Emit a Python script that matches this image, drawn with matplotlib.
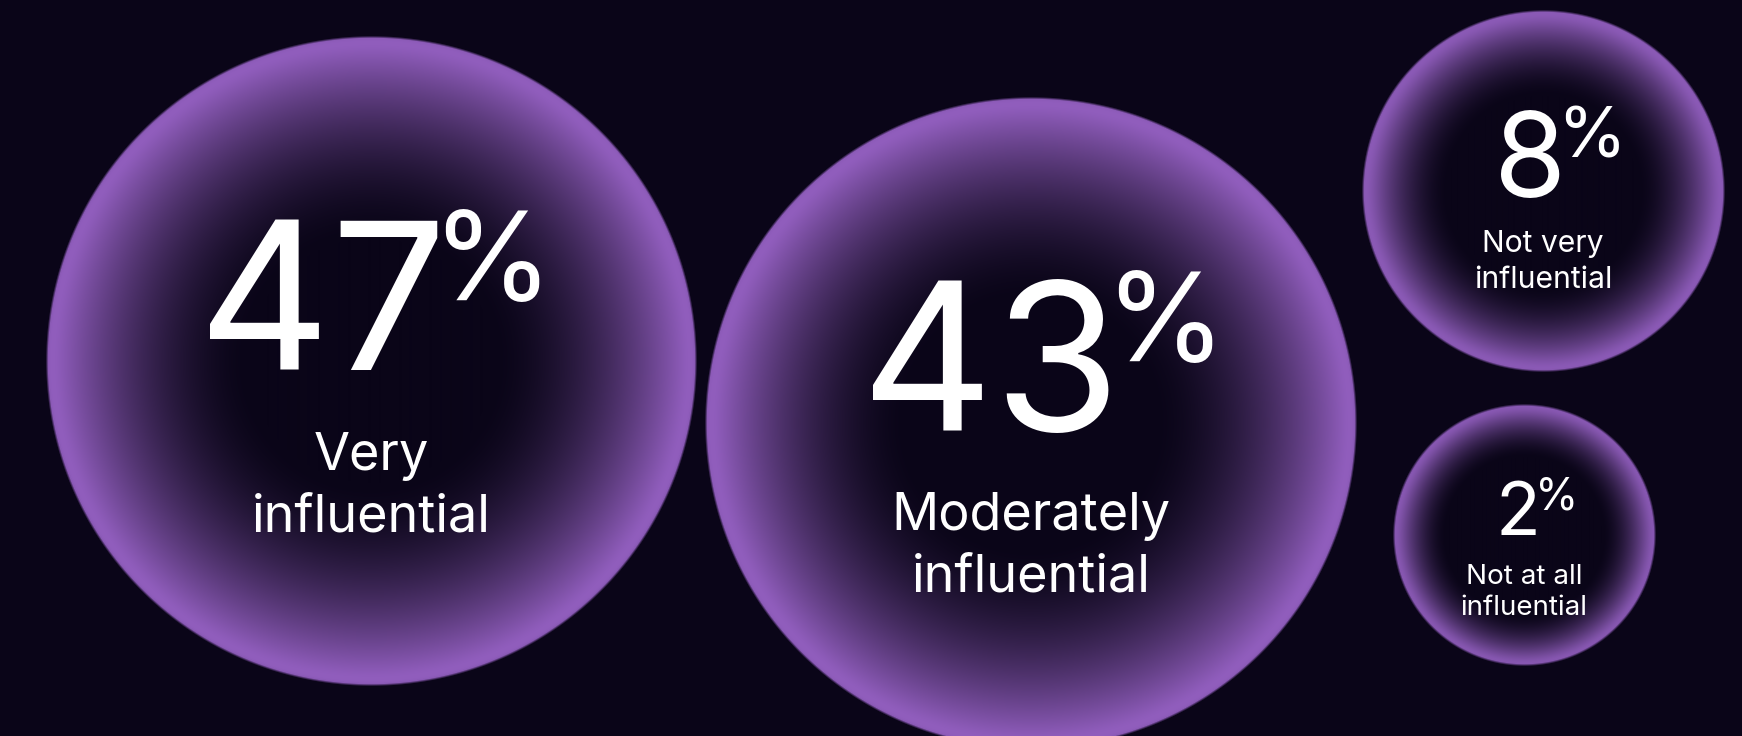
import numpy as np
import matplotlib
matplotlib.use("Agg")
import matplotlib.pyplot as plt

# Survey shares and their answer labels
values = [47, 43, 8, 2]
labels = ["Very\ninfluential", "Moderately\ninfluential",
          "Not very\ninfluential", "Not at all\ninfluential"]

# Bubble layout in pixel units
W, H = 1742, 736
centers_x = [371, 1031, 1543, 1524]
centers_y = [361, 423, 191, 535]
radii = [324, 325, 180, 130]
glow_depth = [0.62, 0.62, 0.47, 0.40]   # fraction of radius the rim glow reaches inward
num_pt = [148, 148, 84, 53]
label_pt = [37.6, 37.6, 21.7, 20.0]
num_dy = [9, 8, 6, 0]
num_dx = [4, 12, 17, 13]
label_dy = [109, 107, 61, 49]
line_gap = [62, 62, 36, 31]

BG = np.array([10, 5, 24]) / 255
RIM = np.array([156, 101, 203]) / 255
FONT = ["Inter", "DejaVu Sans"]

fig = plt.figure(figsize=(W / 100, H / 100), dpi=100, facecolor=BG)
ax = fig.add_axes([0, 0, 1, 1])
ax.set_xlim(0, W)
ax.set_ylim(H, 0)
ax.set_facecolor(BG)
ax.axis("off")


def glow_disc(r, depth):
    n = 2 * r + 2
    c = np.arange(n) - (n - 1) / 2
    xx, yy = np.meshgrid(c, c)
    dist = r - np.hypot(xx, yy)
    f = np.clip(1 - dist / (depth * r), 0, 1) ** 1.65
    f *= 1 - 0.14 * np.exp(-np.clip(dist, 0, None) / 4)
    rgb = BG + f[..., None] * (RIM - BG)
    alpha = np.clip(dist / 2.5 + 0.5, 0, 1)
    return np.dstack([rgb, alpha]), n


for cx, cy, r, dep in zip(centers_x, centers_y, radii, glow_depth):
    img, n = glow_disc(r, dep)
    ax.imshow(img, extent=(cx - n / 2, cx + n / 2, cy + n / 2, cy - n / 2),
              interpolation="bilinear", zorder=1)

ax.set_xlim(0, W)
ax.set_ylim(H, 0)

renderer = fig.canvas.get_renderer()

for i, (v, lab) in enumerate(zip(values, labels)):
    cx, cy = centers_x[i], centers_y[i]
    base = cy + num_dy[i]
    digit_h = 0.727 * num_pt[i] * 100 / 72
    pct_pt = 0.60 * num_pt[i]

    t_num = ax.text(0, base, f"{v}", fontsize=num_pt[i], color="white",
                    family=FONT, ha="left", va="baseline", zorder=3)
    t_pct = ax.text(0, base - 0.47 * digit_h, "%", fontsize=pct_pt, color="white",
                    family=FONT, ha="left", va="baseline", zorder=3)
    w_num = t_num.get_window_extent(renderer).width
    w_pct = t_pct.get_window_extent(renderer).width
    gap = -0.11 * num_pt[i]
    total = w_num + gap + w_pct
    x0 = cx + num_dx[i] - total / 2
    t_num.set_x(x0)
    t_pct.set_x(x0 + w_num + gap)

    for k, line in enumerate(lab.split("\n")):
        ax.text(cx, cy + label_dy[i] + k * line_gap[i], line, fontsize=label_pt[i],
                color="white", family=FONT, ha="center", va="baseline", zorder=3)

fig.savefig("out.png", dpi=100, facecolor=BG)
